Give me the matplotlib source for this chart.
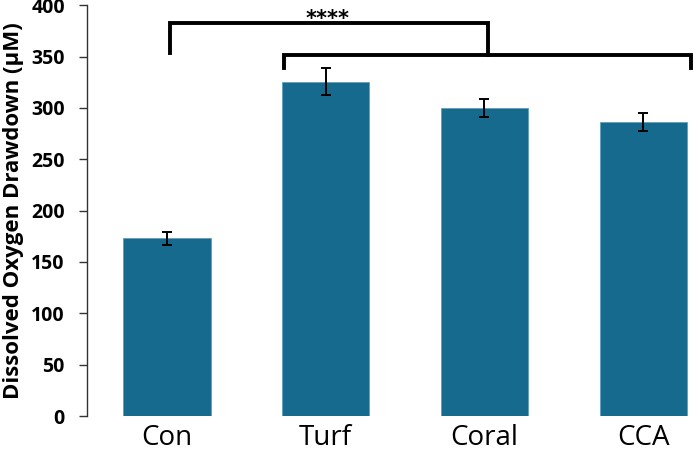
import matplotlib
matplotlib.use("Agg")
import matplotlib.pyplot as plt
import numpy as np

# data
groups = ["Con", "Turf", "Coral", "CCA"]
drawdown = [173, 325.5, 300, 286]
sem = [6.5, 13, 8.5, 8.8]
yticks = [0, 50, 100, 150, 200, 250, 300, 350, 400]

BAR_COLOR = "#156a8e"

fig = plt.figure(figsize=(6.94, 4.57), dpi=100)
ax = fig.add_axes([0.1254, 0.0897, 0.8746, 0.8987])

x = np.arange(len(groups))
ax.bar(x, drawdown, width=0.55, color=BAR_COLOR, edgecolor="#5aa0c0",
       linewidth=0.6, zorder=2)
ax.errorbar(x, drawdown, yerr=sem, fmt="none", ecolor="black",
            elinewidth=1.4, capsize=3.5, capthick=1.4, zorder=3)

# significance brackets
lw = 2.8
ax.plot([0.02, 0.02, 2.02, 2.02], [353.5, 383, 383, 351.5], color="black",
        lw=lw, clip_on=False, solid_joinstyle="miter", zorder=4)
ax.plot([0.74, 0.74, 3.3, 3.3], [339, 351.5, 351.5, 339], color="black",
        lw=lw, clip_on=False, solid_joinstyle="miter", zorder=4)
ax.text(1.01, 381, "****", ha="center", va="baseline", fontsize=15,
        fontweight="bold", family="DejaVu Sans")

ax.set_xlim(-0.504, 3.32)
ax.set_ylim(0, 400)
ax.set_yticks(yticks)
ax.set_yticklabels([str(v) for v in yticks], fontsize=14, fontweight="bold",
                   family="Open Sans")
ax.set_xticks(x)
ax.set_xticklabels(groups, fontsize=20, family="Open Sans")
ax.tick_params(axis="y", length=6, width=1, color="#333333", pad=10)
ax.tick_params(axis="x", length=0, pad=6)

ax.set_ylabel("Dissolved Oxygen Drawdown (µM)", fontsize=16,
              fontweight="bold", family="Open Sans")
ax.yaxis.set_label_coords(-0.104, 0.5)

for side in ("top", "right", "bottom"):
    ax.spines[side].set_visible(False)
ax.spines["left"].set_color("#333333")
ax.spines["left"].set_linewidth(1)

fig.savefig("out.png", dpi=100)
